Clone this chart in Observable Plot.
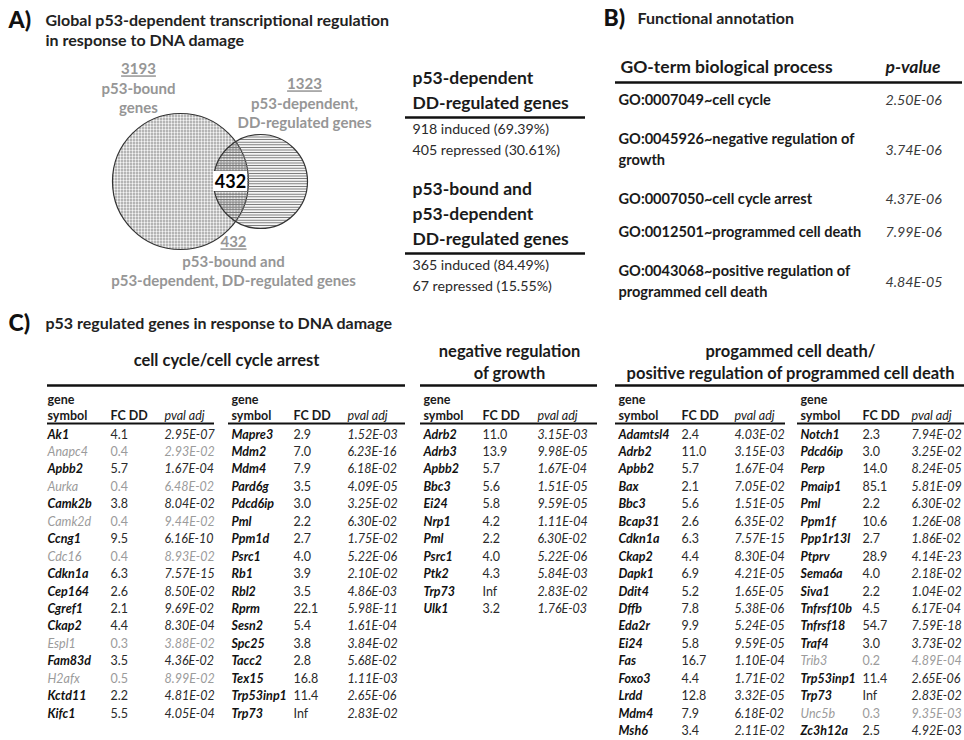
<!DOCTYPE html>
<html>
<head>
<meta charset="utf-8">
<script src="https://cdn.jsdelivr.net/npm/d3@7"></script>
<script src="https://cdn.jsdelivr.net/npm/@observablehq/plot@0.6"></script>
<style>
  html, body { margin: 0; padding: 0; background: #fff; }
  #defs { position: absolute; width: 0; height: 0; }
</style>
</head>
<body>
<svg id="defs" width="0" height="0">
  <defs>
    <pattern id="dots" patternUnits="userSpaceOnUse" width="3" height="3">
      <rect width="3" height="3" fill="#ffffff"></rect>
      <circle cx="1.5" cy="1.5" r="0.9" fill="#5a5a5a"></circle>
    </pattern>
    <pattern id="hlines" patternUnits="userSpaceOnUse" width="4" height="2.6">
      <line x1="0" x2="4" y1="1.3" y2="1.3" stroke="#6e6e6e" stroke-width="1"></line>
    </pattern>
  </defs>
</svg>
<div id="chart"></div>
<script>
// ================= DATA =================
// Panel labels and titles
const panelLabels = ["A)", "B)", "C)"];
const panelTitles = [
  ["Global p53-dependent transcriptional regulation", "in response to DNA damage"],
  ["Functional annotation"],
  ["p53 regulated genes in response to DNA damage"]
];

// Venn diagram
const vennCounts = ["3193", "1323", "432"];
const vennLabels = [
  ["p53-bound", "genes"],
  ["p53-dependent,", "DD-regulated genes"],
  ["p53-bound and", "p53-dependent, DD-regulated genes"]
];
const overlapCount = "432";

// Summary blocks next to the Venn
const summaryHeads = [
  ["p53-dependent", "DD-regulated genes"],
  ["p53-bound and", "p53-dependent", "DD-regulated genes"]
];
const summaryLines = [
  ["918 induced (69.39%)", "405 repressed (30.61%)"],
  ["365 induced (84.49%)", "67 repressed (15.55%)"]
];

// Panel B: GO terms
const goHeader = ["GO-term biological process", "p-value"];
const goTerms = [
  ["GO:0007049~cell cycle"],
  ["GO:0045926~negative regulation of", "growth"],
  ["GO:0007050~cell cycle arrest"],
  ["GO:0012501~programmed cell death"],
  ["GO:0043068~positive regulation of", "programmed cell death"]
];
const goPvalues = ["2.50E-06", "3.74E-06", "4.37E-06", "7.99E-06", "4.84E-05"];

// Panel C: tables
const tableTitles = [
  ["cell cycle/cell cycle arrest"],
  ["negative regulation", "of growth"],
  ["progammed cell death/", "positive regulation of programmed cell death"]
];
const colHeaders = ["gene", "symbol", "FC DD", "pval adj"];

const ccGenes = ["Ak1","Anapc4","Apbb2","Aurka","Camk2b","Camk2d","Ccng1","Cdc16","Cdkn1a","Cep164","Cgref1","Ckap2","Espl1","Fam83d","H2afx","Kctd11","Kifc1",
  "Mapre3","Mdm2","Mdm4","Pard6g","Pdcd6ip","Pml","Ppm1d","Psrc1","Rb1","Rbl2","Rprm","Sesn2","Spc25","Tacc2","Tex15","Trp53inp1","Trp73"];
const ccFC = ["4.1","0.4","5.7","0.4","3.8","0.4","9.5","0.4","6.3","2.6","2.1","4.4","0.3","3.5","0.5","2.2","5.5",
  "2.9","7.0","7.9","3.5","3.0","2.2","2.7","4.0","3.9","3.5","22.1","5.4","3.8","2.8","16.8","11.4","Inf"];
const ccPval = ["2.95E-07","2.93E-02","1.67E-04","6.48E-02","8.04E-02","9.44E-02","6.16E-10","8.93E-02","7.57E-15","8.50E-02","9.69E-02","8.30E-04","3.88E-02","4.36E-02","8.99E-02","4.81E-02","4.05E-04",
  "1.52E-03","6.23E-16","6.18E-02","4.09E-05","3.25E-02","6.30E-02","1.75E-02","5.22E-06","2.10E-02","4.86E-03","5.98E-11","1.61E-04","3.84E-02","5.68E-02","1.11E-03","2.65E-06","2.83E-02"];

const ngGenes = ["Adrb2","Adrb3","Apbb2","Bbc3","Ei24","Nrp1","Pml","Psrc1","Ptk2","Trp73","Ulk1"];
const ngFC = ["11.0","13.9","5.7","5.6","5.8","4.2","2.2","4.0","4.3","Inf","3.2"];
const ngPval = ["3.15E-03","9.98E-05","1.67E-04","1.51E-05","9.59E-05","1.11E-04","6.30E-02","5.22E-06","5.84E-03","2.83E-02","1.76E-03"];

const pcdGenes = ["Adamtsl4","Adrb2","Apbb2","Bax","Bbc3","Bcap31","Cdkn1a","Ckap2","Dapk1","Ddit4","Dffb","Eda2r","Ei24","Fas","Foxo3","Lrdd","Mdm4","Msh6",
  "Notch1","Pdcd6ip","Perp","Pmaip1","Pml","Ppm1f","Ppp1r13l","Ptprv","Sema6a","Siva1","Tnfrsf10b","Tnfrsf18","Traf4","Trib3","Trp53inp1","Trp73","Unc5b","Zc3h12a"];
const pcdFC = ["2.4","11.0","5.7","2.1","5.6","2.6","6.3","4.4","6.9","5.2","7.8","9.9","5.8","16.7","4.4","12.8","7.9","3.4",
  "2.3","3.0","14.0","85.1","2.2","10.6","2.7","28.9","4.0","2.2","4.5","54.7","3.0","0.2","11.4","Inf","0.3","2.5"];
const pcdPval = ["4.03E-02","3.15E-03","1.67E-04","7.05E-02","1.51E-05","6.35E-02","7.57E-15","8.30E-04","4.21E-05","1.65E-05","5.38E-06","5.24E-05","9.59E-05","1.10E-04","1.71E-02","3.32E-05","6.18E-02","2.11E-02",
  "7.94E-02","3.25E-02","8.24E-05","5.81E-09","6.30E-02","1.26E-08","1.86E-02","4.14E-23","2.18E-02","1.04E-02","6.17E-04","7.59E-18","3.73E-02","4.89E-04","2.65E-06","2.83E-02","9.35E-03","4.92E-03"];

// ================= LAYOUT =================
const W = 964, H = 740;
const FONT = "Lato, 'Open Sans', sans-serif";
const GRAY = "#9b9b9b", VGRAY = "#969696";

const labelPos = [[8, 20], [603, 18], [8, 323]];
const titlePos = [[45, 20], [637, 18], [45, 323]];
const labelCells = panelLabels.map((t, i) => ({t, x: labelPos[i][0], y: labelPos[i][1]}));
const titleCells = panelTitles.flatMap((lines, i) => lines.map((t, j) => ({t, x: titlePos[i][0], y: titlePos[i][1] + j * 20.5})));

// Venn
const circles = [
  {x: 180, y: 181},
  {x: 260, y: 181}
];
const radii = [68, 47];
const vennPos = [[138, 69], [304, 84], [233, 242]];
const vennStep = 19.5;
const countCells = vennCounts.map((t, i) => ({t, x: vennPos[i][0], y: vennPos[i][1]}));
const vennLabelCells = vennLabels.flatMap((lines, i) => lines.map((t, j) => ({t, x: vennPos[i][0], y: vennPos[i][1] + (j + 1) * vennStep})));
const overlapCenter = {x: 230, y: 181};
const overlapBox = [{x1: overlapCenter.x - 17, x2: overlapCenter.x + 17, y1: overlapCenter.y - 10, y2: overlapCenter.y + 10}];
const overlapCells = [{t: overlapCount, x: overlapCenter.x, y: overlapCenter.y + 1}];

// Summary blocks
const sumX = 412;
const sumRuleY = [117, 253];
const headStep = 25, lineStep = 20.5;
const sumHeadCells = summaryHeads.flatMap((lines, b) => lines.map((t, j) => ({t, x: sumX, y: sumRuleY[b] - 14 - (lines.length - 1 - j) * headStep})));
const sumLineCells = summaryLines.flatMap((lines, b) => lines.map((t, j) => ({t, x: sumX, y: sumRuleY[b] + 12 + j * lineStep})));
const sumRules = sumRuleY.map(y => ({y, x1: 405, x2: 585}));

// Panel B
const goX = 618, goPX = 885, goHeadY = 67, goRuleY = 82;
const goHeadCells = [{t: goHeader[0], x: goX + 2, y: goHeadY}];
const goHeadPCells = [{t: goHeader[1], x: goPX, y: goHeadY}];
const goRowH = 33, goLineH = 21.5;
let goTop = goRuleY + 1.5;
const goTermCells = [], goPCells = [];
goTerms.forEach((lines, i) => {
  const h = goRowH * lines.length;
  const c = goTop + h / 2;
  lines.forEach((t, j) => goTermCells.push({t, x: goX, y: c + (j - (lines.length - 1) / 2) * goLineH}));
  goPCells.push({t: goPvalues[i], x: goPX, y: c});
  goTop += h;
});
const goRules = [{y: goRuleY, x1: 615, x2: 962}];

// Panel C tables
const topRuleY = 385, hdrRuleY = 423, geneY = 399, symY = 415, row0 = 434, rowH = 17.45;
const tableTitleCells = [
  ...tableTitles[0].map((t, j) => ({t, x: 226, y: 360 + j * 22})),
  ...tableTitles[1].map((t, j) => ({t, x: 509, y: 351 + j * 22})),
  ...tableTitles[2].map((t, j) => ({t, x: 790, y: 351 + j * 22}))
];
const colGroups = [
  {genes: ccGenes, fc: ccFC, pv: ccPval, start: 0, n: 17, gx: 47, fx: 110, px: 164},
  {genes: ccGenes, fc: ccFC, pv: ccPval, start: 17, n: 17, gx: 231, fx: 293, px: 347},
  {genes: ngGenes, fc: ngFC, pv: ngPval, start: 0, n: 11, gx: 423, fx: 482, px: 537},
  {genes: pcdGenes, fc: pcdFC, pv: pcdPval, start: 0, n: 18, gx: 618, fx: 681, px: 734},
  {genes: pcdGenes, fc: pcdFC, pv: pcdPval, start: 18, n: 18, gx: 800, fx: 862, px: 911}
];
const topRules = [[47, 405], [420, 597], [615, 964]].map(([x1, x2]) => ({y: topRuleY, x1, x2}));
const hdrRules = [[47, 214], [228, 405], [420, 597], [615, 785], [797, 964]].map(([x1, x2]) => ({y: hdrRuleY, x1, x2}));

const hdrPlain = [], hdrItalic = [], cells = [];
colGroups.forEach(g => {
  hdrPlain.push({t: colHeaders[0], x: g.gx, y: geneY});
  hdrPlain.push({t: colHeaders[1], x: g.gx, y: symY});
  hdrPlain.push({t: colHeaders[2], x: g.fx, y: symY});
  hdrItalic.push({t: colHeaders[3], x: g.px, y: symY});
  for (let i = 0; i < g.n; i++) {
    const k = g.start + i;
    const fc = g.fc[k];
    const gray = fc !== "Inf" && +fc < 1;
    const y = row0 + i * rowH;
    cells.push({kind: "gene", gray, t: g.genes[k], x: g.gx, y});
    cells.push({kind: "fc", gray, t: fc, x: g.fx, y});
    cells.push({kind: "pv", gray, t: g.pv[k], x: g.px, y});
  }
});
const pick = (kind, gray) => cells.filter(d => d.kind === kind && d.gray === gray);

// ================= PLOT =================
const txt = (data, o) => Plot.text(data, {x: "x", y: "y", text: "t", textAnchor: "start", fontFamily: FONT, ...o});
const rules = (data, w) => Plot.ruleY(data, {y: "y", x1: "x1", x2: "x2", stroke: "#111", strokeWidth: w});

const svg = Plot.plot({
  width: W, height: H,
  margin: 0,
  x: {type: "linear", domain: [0, W], range: [0, W], axis: null},
  y: {type: "linear", domain: [0, H], range: [0, H], axis: null},
  style: {background: "#fff"},
  marks: [
    // panel labels and titles
    txt(labelCells, {fontSize: 23, fontWeight: 900, fill: "#111"}),
    txt(titleCells, {fontSize: 16, fontWeight: 700, fill: "#222"}),

    // Venn diagram
    Plot.dot(circles.slice(0, 1), {x: "x", y: "y", r: radii[0], fill: "url(#dots)", stroke: "#333", strokeWidth: 1.2}),
    Plot.dot(circles.slice(1, 2), {x: "x", y: "y", r: radii[1], fill: "url(#hlines)", stroke: "#333", strokeWidth: 1.2}),
    Plot.rect(overlapBox, {x1: "x1", x2: "x2", y1: "y1", y2: "y2", fill: "#fff"}),
    txt(overlapCells, {textAnchor: "middle", fontSize: 18, fontWeight: 700, fill: "#000"}),
    txt(countCells, {textAnchor: "middle", fontSize: 15, fontWeight: 700, fill: VGRAY}),
    txt(vennLabelCells, {textAnchor: "middle", fontSize: 15, fontWeight: 700, fill: VGRAY}),

    // Summary blocks
    txt(sumHeadCells, {fontSize: 17.5, fontWeight: 700, fill: "#1a1a1a"}),
    rules(sumRules, 2.5),
    txt(sumLineCells, {fontSize: 14.2, fontWeight: 400, fill: "#2a2a2a"}),

    // Panel B
    txt(goHeadCells, {fontSize: 17.5, fontWeight: 700, fill: "#1a1a1a"}),
    txt(goHeadPCells, {fontSize: 17.5, fontWeight: 700, fontStyle: "italic", fill: "#1a1a1a"}),
    rules(goRules, 2.5),
    txt(goTermCells, {fontSize: 14.6, fontWeight: 700, fill: "#1a1a1a"}),
    txt(goPCells, {fontSize: 14.2, fontWeight: 400, fontStyle: "italic", fill: "#3a3a3a"}),

    // Panel C
    txt(tableTitleCells, {textAnchor: "middle", fontSize: 16.5, fontWeight: 700, fill: "#1a1a1a"}),
    rules(topRules, 2.5),
    rules(hdrRules, 2),
    txt(hdrPlain, {fontSize: 12.5, fontWeight: 700, fill: "#1a1a1a"}),
    txt(hdrItalic, {fontSize: 12.5, fontWeight: 400, fontStyle: "italic", fill: "#1a1a1a"}),
    txt(pick("gene", false), {fontSize: 12.5, fontWeight: 700, fontStyle: "italic", fill: "#111"}),
    txt(pick("gene", true), {fontSize: 12.5, fontWeight: 400, fontStyle: "italic", fill: GRAY}),
    txt(pick("fc", false), {fontSize: 12.5, fontWeight: 400, fill: "#2a2a2a"}),
    txt(pick("fc", true), {fontSize: 12.5, fontWeight: 400, fill: GRAY}),
    txt(pick("pv", false), {fontSize: 12.5, fontWeight: 400, fontStyle: "italic", fill: "#2a2a2a"}),
    txt(pick("pv", true), {fontSize: 12.5, fontWeight: 400, fontStyle: "italic", fill: GRAY})
  ]
});

// underline the Venn counts
d3.select(svg).selectAll("text")
  .filter(function () {
    const g = this.parentNode;
    return g && g.getAttribute("fill") === VGRAY && vennCounts.includes(this.textContent);
  })
  .style("text-decoration", "underline");

document.getElementById("chart").appendChild(svg);
</script>
</body>
</html>
